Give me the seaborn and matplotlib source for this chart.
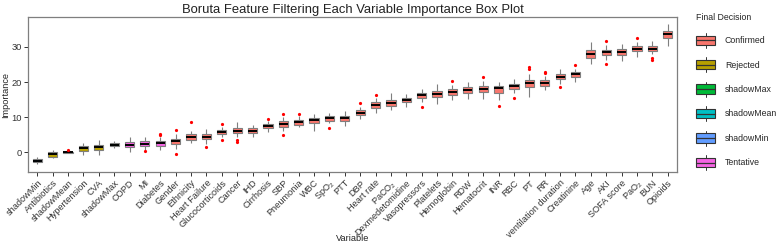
import numpy as np
import pandas as pd
import seaborn as sns
import matplotlib.pyplot as plt
from matplotlib.patches import Patch, Rectangle
from matplotlib.lines import Line2D
from matplotlib.legend_handler import HandlerBase

# ---- data (five-number summaries per variable) ----
variables = ["shadowMin", "Antibiotics", "shadowMean", "Hypertension", "CVA", "shadowMax",
             "COPD", "MI", "Diabetes", "Gender", "Ethnicity", "Heart Failure",
             "Glucocorticoids", "Cancer", "IHD", "Cirrhosis", "SBP", "Pneumonia", "WBC",
             "SpO$_2$", "PTT", "DBP", "Heart rate", "PaCO$_2$", "Dexmedetomidine",
             "Vasopressors", "Platelets", "Hemoglobin", "RDW", "Hematocrit", "INR", "RBC",
             "PT", "RR", "ventilation duration", "Creatinine", "Age", "AKI", "SOFA score",
             "PaO$_2$", "BUN", "Opioids"]
decision = (["shadowMin", "Rejected", "shadowMean", "Rejected", "Rejected", "shadowMax",
             "Tentative", "Tentative", "Tentative"] + ["Confirmed"] * 33)
lower = [-3.2, -1.6, -0.3, -0.9, -0.9, 1.1, 0.1, 0.7, 0.8, 0.9, 2.7, 2.5, 4.4, 4.5, 4.5,
         5.8, 6.0, 7.1, 6.2, 8.2, 7.5, 9.4, 11.3, 12.0, 12.9, 14.4, 13.7, 14.8, 15.3, 15.2,
         14.9, 16.8, 15.8, 17.6, 19.4, 20.1, 25.1, 26.4, 25.9, 27.1, 28.0, 30.3]
q1 = [-2.7, -1.3, -0.15, 0.5, 0.8, 1.7, 1.5, 1.7, 1.9, 2.3, 3.6, 3.8, 5.2, 5.4, 5.6,
      6.9, 7.2, 7.8, 8.3, 9.0, 9.0, 10.6, 12.7, 13.2, 14.2, 15.4, 15.7, 16.3, 16.9, 17.1,
      16.9, 18.1, 18.5, 18.9, 20.9, 21.5, 26.9, 27.7, 27.7, 28.8, 28.8, 32.6]
median = [-2.4, -0.6, 0.0, 1.1, 1.5, 2.2, 2.2, 2.4, 2.6, 3.1, 4.4, 4.5, 5.8, 6.2, 6.2,
          7.5, 8.0, 8.5, 9.1, 9.7, 9.7, 11.3, 13.5, 14.1, 14.9, 16.2, 16.6, 17.1, 17.7, 18.0,
          18.2, 18.9, 19.6, 19.7, 21.5, 22.2, 28.0, 28.5, 28.6, 29.5, 29.5, 33.6]
q3 = [-1.9, 0.1, 0.1, 1.7, 2.2, 2.6, 2.9, 3.1, 3.2, 3.9, 5.1, 5.1, 6.4, 6.9, 6.8,
      8.1, 8.8, 9.1, 9.9, 10.4, 10.4, 12.1, 14.3, 14.9, 15.4, 16.9, 17.4, 17.9, 18.5, 18.8,
      19.0, 19.5, 20.7, 20.5, 22.3, 22.8, 29.2, 29.2, 29.4, 30.3, 30.3, 34.5]
upper = [-1.4, 0.8, 0.3, 2.7, 3.6, 3.3, 4.3, 4.5, 4.4, 5.3, 6.2, 6.7, 7.1, 8.5, 7.9,
         8.9, 10.0, 10.3, 11.0, 11.3, 11.7, 12.9, 15.4, 16.8, 16.6, 18.0, 19.4, 19.1, 20.0, 20.2,
         20.1, 21.0, 22.3, 21.6, 23.8, 23.8, 31.4, 30.5, 30.9, 31.5, 31.6, 36.4]

outlier_var = ["shadowMean", "MI", "Diabetes", "Diabetes", "Gender", "Gender", "Ethnicity",
               "Heart Failure", "Glucocorticoids", "Glucocorticoids", "Cancer", "Cancer",
               "Cirrhosis", "SBP", "SBP", "Pneumonia", "SpO$_2$", "DBP", "Heart rate",
               "Vasopressors", "Hemoglobin", "Hematocrit", "INR", "RBC", "PT", "PT", "RR", "RR",
               "ventilation duration", "Creatinine", "AKI", "AKI", "PaO$_2$", "BUN", "BUN"]
outlier_val = [0.6, 0.3, 5.0, 5.3, 6.3, -0.6, 8.5, 1.5, 8.0, 3.5, 3.4, 2.9, 9.4, 10.9, 4.8,
               10.8, 6.9, 14.1, 16.3, 13.0, 20.3, 21.5, 13.1, 15.4, 24.3, 23.7, 22.9, 22.5,
               18.7, 24.8, 31.7, 25.2, 32.4, 26.8, 26.4]

decision_order = ["Confirmed", "Rejected", "shadowMax", "shadowMean", "shadowMin", "Tentative"]
palette = {"Confirmed": "#F8766D", "Rejected": "#B79F00", "shadowMax": "#00BA38",
           "shadowMean": "#00BFC4", "shadowMin": "#619CFF", "Tentative": "#F564E3"}

# long table for seaborn: each box is lower / q1 / median / q3 / upper
box_df = pd.DataFrame({
    "variable": np.repeat(variables, 5),
    "decision": np.repeat(decision, 5),
    "value": np.column_stack([lower, q1, median, q3, upper]).ravel(),
})
out_df = pd.DataFrame({"variable": outlier_var, "value": outlier_val})

sns.set_theme(style="ticks")
plt.rcParams["font.family"] = ["Liberation Sans", "DejaVu Sans"]
plt.rcParams["mathtext.fontset"] = "custom"
plt.rcParams["mathtext.rm"] = "Liberation Sans"
plt.rcParams["mathtext.it"] = "Liberation Sans:italic"

fig = plt.figure(figsize=(7.79, 2.43), dpi=100)
ax = fig.add_axes([28 / 779, 71 / 243, 649 / 779, 155 / 243])

sns.boxplot(data=box_df, x="variable", y="value", hue="decision", order=variables,
            hue_order=decision_order, palette=palette, saturation=1, dodge=False,
            whis=(0, 100), width=0.6, linecolor="#7f7f7f", linewidth=0.8,
            showcaps=False, showfliers=False,
            medianprops={"color": "black", "linewidth": 1.4},
            legend=False, ax=ax)
sns.stripplot(data=out_df, x="variable", y="value", order=variables, jitter=False,
              color="red", size=2.3, linewidth=0, ax=ax, zorder=4)

ax.set_xlim(-0.6, len(variables) - 0.4)
ax.set_ylim(-5.6, 38.5)
ax.set_yticks([0, 10, 20, 30])

# frame and ticks
for side in ["top", "right", "bottom", "left"]:
    ax.spines[side].set_visible(True)
    ax.spines[side].set_color("#7f7f7f")
    ax.spines[side].set_linewidth(0.9)
ax.tick_params(axis="both", colors="#333333", labelsize=6.7, length=3, width=0.7,
               direction="out", pad=1.5)
ax.tick_params(axis="x", labelsize=6.6)
plt.setp(ax.get_xticklabels(), rotation=45, ha="right", rotation_mode="anchor")

ax.set_xlabel("Variable", fontsize=6.6, color="#222222", va="center")
ax.set_ylabel("Importance", fontsize=6.6, color="#222222", va="center")
ax.xaxis.set_label_coords(0.5, -0.426)
ax.yaxis.set_label_coords(-0.035, 0.5)
ax.set_title("Boruta Feature Filtering Each Variable Importance Box Plot",
             fontsize=9.4, color="#222222", pad=3)


class BoxKey(HandlerBase):
    # ggplot style legend key: box + median + whiskers
    def create_artists(self, legend, orig_handle, xdescent, ydescent, width, height,
                       fontsize, trans):
        fc = orig_handle.get_facecolor()
        x0, y0 = -xdescent, -ydescent
        cx = x0 + width / 2
        wl = Line2D([cx, cx], [y0 - 0.1 * height, y0 + 1.1 * height],
                    color="#333333", lw=0.7, transform=trans)
        box = Rectangle((x0, y0 + 0.12 * height), width, 0.76 * height,
                        facecolor=fc, edgecolor="#333333", lw=0.8, transform=trans)
        med = Line2D([x0, x0 + width], [y0 + 0.5 * height] * 2,
                     color="#333333", lw=0.9, transform=trans)
        return [wl, box, med]


handles = [Patch(facecolor=palette[k]) for k in decision_order]
fig.legend(handles, decision_order, title="Final Decision", handler_map={Patch: BoxKey()},
           loc="upper left", bbox_to_anchor=(696 / 779, 1 - 13 / 243), frameon=False,
           fontsize=6.3, title_fontsize=6.3, handlelength=2.2, handleheight=1.8,
           labelspacing=1.38, handletextpad=1.1, borderaxespad=0, borderpad=0,
           alignment="left")

fig.savefig("out.png", dpi=100)
